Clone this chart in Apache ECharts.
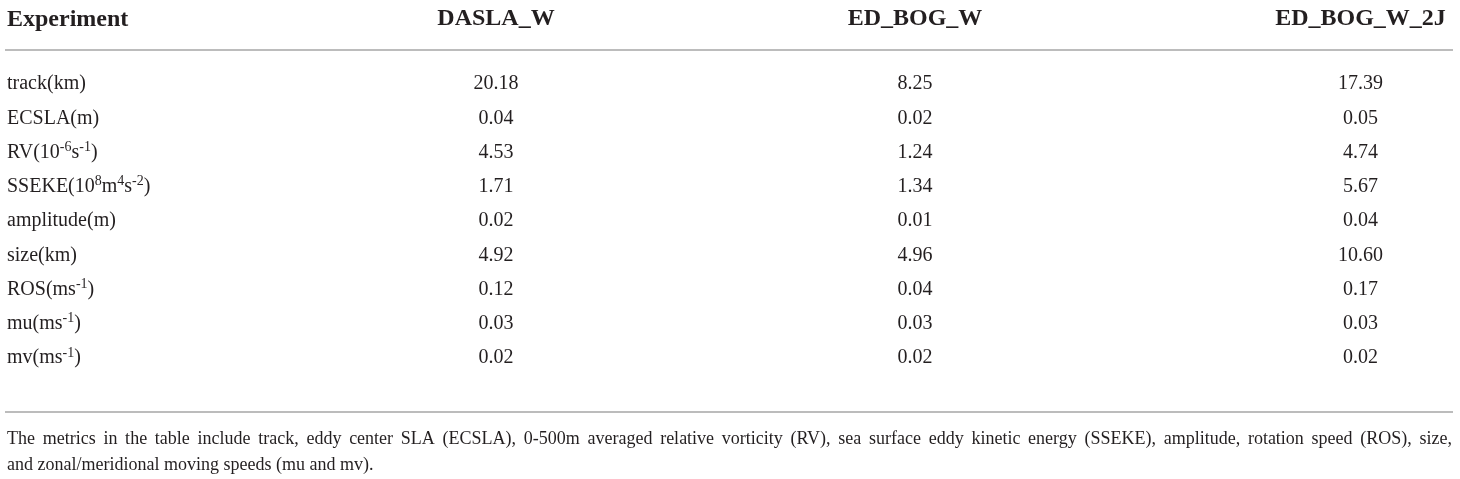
<!DOCTYPE html>
<html>
<head>
    <meta charset="utf-8">
    <title></title>
    <script src="https://cdn.jsdelivr.net/npm/echarts@6.0.0/dist/echarts.min.js"></script>
</head>
<body style="margin:0;background:#fff;">
<div id="main" style="width:1460px;height:479px;"></div>
<script type="text/javascript">
    // 表格数据
    var experiments = ['DASLA_W', 'ED_BOG_W', 'ED_BOG_W_2J'];
    var metrics = ['track(km)', 'ECSLA(m)', 'RV(10^{-6}s^{-1})', 'SSEKE(10^{8}m^{4}s^{-2})', 'amplitude(m)',
        'size(km)', 'ROS(ms^{-1})', 'mu(ms^{-1})', 'mv(ms^{-1})'];
    var daslaW = [20.18, 0.04, 4.53, 1.71, 0.02, 4.92, 0.12, 0.03, 0.02];
    var edBogW = [8.25, 0.02, 1.24, 1.34, 0.01, 4.96, 0.04, 0.03, 0.02];
    var edBogW2J = [17.39, 0.05, 4.74, 5.67, 0.04, 10.60, 0.17, 0.03, 0.02];
    var columns = [daslaW, edBogW, edBogW2J];
    var noteLine1 = 'The metrics in the table include track, eddy center SLA (ECSLA), 0-500m averaged relative vorticity (RV), sea surface eddy kinetic energy (SSEKE), amplitude, rotation speed (ROS), size,';
    var noteLine2 = 'and zonal/meridional moving speeds (mu and mv).';

    var font = 'Liberation Serif';
    var ink = '#231f20';
    var centers = [496, 915, 1361]; // 每列的中心位置

    // 第一行注释两端对齐：算出每个空格的宽度
    var ctx = document.createElement('canvas').getContext('2d');
    ctx.font = '18px "' + font + '"';
    var words = noteLine1.split(' ');
    var wordsWidth = ctx.measureText(words.join('')).width;
    var gap = (1445 - wordsWidth) / (words.length - 1);
    var note = words.join('{g| }') + '\n' + noteLine2;

    var grids = [], xAxes = [], yAxes = [], series = [];
    for (let i = 0; i < experiments.length; i++) {
        grids.push({left: centers[i] - 100, width: 200, top: 84, height: 274});
        xAxes.push({
            type: 'category', gridIndex: i, position: 'top', data: [experiments[i]],
            axisLine: {show: false}, axisTick: {show: false}, splitLine: {show: false},
            axisLabel: {margin: 53, fontFamily: font, fontSize: 24, fontWeight: 'bold', color: ink}
        });
        yAxes.push({
            type: 'category', gridIndex: i, inverse: true, boundaryGap: false, data: metrics,
            axisLine: {show: false}, axisTick: {show: false}, splitLine: {show: false},
            axisLabel: {
                show: i === 0, align: 'left', margin: centers[0] - 100 - 7,
                fontFamily: font, fontSize: 20, color: ink, lineHeight: 24,
                formatter: function (v) {
                    return v.replace(/\^\{([^}]*)\}/g, '{s|$1}');
                },
                rich: {s: {fontFamily: font, fontSize: 14, color: ink, lineHeight: 14, verticalAlign: 'top'}}
            }
        });
        series.push({
            type: 'scatter', xAxisIndex: i, yAxisIndex: i, symbolSize: 0,
            itemStyle: {opacity: 1},
            data: columns[i].map(function (v, j) { return [experiments[i], metrics[j], v]; }),
            label: {
                show: true, position: 'inside', fontFamily: font, fontSize: 20, color: ink,
                formatter: function (p) { return p.value[2].toFixed(2); }
            }
        });
    }

    var myChart = echarts.init(document.getElementById('main'));
    myChart.setOption({
        animation: false,
        title: [
            {text: 'Experiment', left: 2, top: 3, textStyle: {fontFamily: font, fontSize: 24, fontWeight: 'bold', color: ink}},
            {
                text: note, left: 2, top: 421,
                textStyle: {
                    fontFamily: font, fontSize: 18, fontWeight: 'normal', color: ink, lineHeight: 26,
                    rich: {g: {fontFamily: font, fontSize: 18, width: gap, lineHeight: 26}}
                }
            }
        ],
        grid: grids,
        xAxis: xAxes,
        yAxis: yAxes,
        series: series,
        graphic: [
            {type: 'line', shape: {x1: 5, y1: 50, x2: 1453, y2: 50}, style: {stroke: '#a6a6a6', lineWidth: 1.5}},
            {type: 'line', shape: {x1: 5, y1: 412, x2: 1453, y2: 412}, style: {stroke: '#a6a6a6', lineWidth: 1.5}}
        ]
    });
</script>
</body>
</html>
